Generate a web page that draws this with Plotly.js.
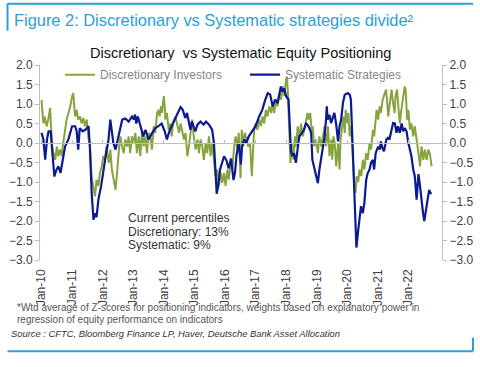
<!DOCTYPE html>
<html>
<head>
<meta charset="utf-8">
<script src="https://cdn.plot.ly/plotly-3.0.1.min.js"></script>
<style>html,body{margin:0;padding:0;background:#fff}#chart{width:480px;height:367px}</style>
</head>
<body>
<div id="chart"></div>
<script>
// Tick labels (decimal-year positions)
const tickYears = [2010,2011,2012,2013,2014,2015,2016,2017,2018,2019,2020,2021,2022];
const tickLabels = ["Jan-10","Jan-11","Jan-12","Jan-13","Jan-14","Jan-15","Jan-16","Jan-17","Jan-18","Jan-19","Jan-20","Jan-21","Jan-22"];

// Discretionary Investors (green), x in decimal years
const discX = [2010.00,2010.03,2010.06,2010.10,2010.17,2010.22,2010.28,2010.31,2010.35,2010.39,2010.45,2010.50,2010.55,2010.61,2010.66,2010.71,2010.77,2010.82,2010.88,2010.94,
2011.00,2011.04,2011.07,2011.10,2011.15,2011.20,2011.26,2011.31,2011.37,2011.42,2011.48,2011.54,2011.58,2011.64,2011.69,2011.75,2011.80,2011.86,2011.91,2011.97,
2012.02,2012.07,2012.12,2012.20,2012.25,2012.30,2012.36,2012.42,2012.47,2012.50,2012.54,2012.58,2012.63,2012.69,2012.74,2012.80,2012.85,2012.90,2012.96,
2013.01,2013.07,2013.12,2013.18,2013.23,2013.29,2013.34,2013.40,2013.45,2013.50,2013.56,2013.61,2013.67,2013.72,2013.78,2013.83,2013.86,2013.91,2013.94,
2014.00,2014.03,2014.05,2014.10,2014.16,2014.21,2014.26,2014.30,2014.38,2014.43,2014.50,2014.55,2014.60,2014.66,2014.71,2014.77,2014.82,2014.87,2014.93,2014.98,
2015.04,2015.10,2015.15,2015.20,2015.26,2015.31,2015.37,2015.42,2015.48,2015.53,2015.58,2015.64,2015.69,2015.75,2015.80,2015.86,2015.91,2015.97,
2016.02,2016.08,2016.13,2016.19,2016.24,2016.30,2016.35,2016.40,2016.45,2016.48,2016.51,2016.55,2016.60,2016.65,2016.70,2016.76,2016.82,2016.88,2016.93,2016.96,
2017.00,2017.06,2017.12,2017.17,2017.23,2017.28,2017.34,2017.39,2017.45,2017.51,2017.56,2017.61,2017.67,2017.72,2017.78,2017.83,2017.89,2017.94,
2018.00,2018.03,2018.06,2018.09,2018.14,2018.19,2018.24,2018.29,2018.33,2018.38,2018.43,2018.49,2018.54,2018.60,2018.65,2018.70,2018.74,2018.79,2018.84,2018.87,2018.92,2018.98,
2019.04,2019.09,2019.15,2019.20,2019.26,2019.31,2019.37,2019.42,2019.48,2019.51,2019.55,2019.59,2019.64,2019.70,2019.75,2019.78,2019.84,2019.88,2019.92,2019.95,2019.99,
2020.04,2020.08,2020.12,2020.16,2020.20,2020.24,2020.27,2020.31,2020.36,2020.40,2020.46,2020.51,2020.56,2020.62,2020.67,2020.73,2020.78,2020.84,2020.88,2020.93,2020.96,
2021.01,2021.06,2021.10,2021.16,2021.23,2021.27,2021.31,2021.34,2021.38,2021.45,2021.50,2021.55,2021.58,2021.63,2021.68,2021.72,2021.77,2021.83,2021.88,2021.91,2021.96,
2022.00,2022.05,2022.10,2022.16,2022.21,2022.27,2022.33,2022.38,2022.43,2022.49,2022.54,2022.60,2022.65,2022.70,2022.76];
const discY = [1.10,0.85,0.50,0.68,0.43,0.60,0.90,0.43,-0.09,-0.26,-0.43,-0.09,-0.34,-0.17,-0.34,0.00,0.30,0.60,0.77,0.94,
1.20,1.28,0.94,0.68,0.85,0.60,0.68,0.50,0.64,0.43,0.60,0.09,0.00,-0.85,-1.10,-1.37,-0.94,-1.10,-0.77,-0.60,
-0.34,-0.43,-0.09,-0.51,-0.17,-0.68,-0.94,-1.20,-0.77,-0.43,-0.09,0.17,-0.09,-0.26,0.09,-0.09,0.17,-0.26,0.17,
0.00,0.26,-0.26,0.17,-0.34,0.34,-0.09,0.17,-0.26,0.26,0.17,-0.17,0.43,0.26,0.77,0.85,0.68,0.94,0.77,
1.20,0.94,0.60,0.77,0.34,0.50,0.17,0.50,0.68,0.50,0.26,0.50,0.34,0.09,0.26,-0.34,-0.09,0.26,0.60,0.17,
-0.17,0.09,-0.26,0.09,-0.09,-0.43,0.00,-0.26,0.17,-0.34,0.00,-0.43,-0.85,-0.68,-1.10,-0.77,-1.02,-0.77,
-1.10,-0.68,-0.94,-0.43,-0.68,-0.09,0.17,-0.17,0.26,-0.20,-0.90,0.34,-0.09,0.26,0.09,-0.09,0.00,-0.85,0.00,0.34,
0.50,0.34,0.60,0.43,0.68,0.50,0.85,0.68,0.94,0.77,1.02,0.77,1.11,0.94,1.28,1.11,1.45,1.20,
1.62,1.70,1.28,0.43,-0.51,0.00,-0.43,0.17,-0.09,0.43,0.09,0.50,0.17,0.34,0.60,0.77,0.60,0.77,0.26,0.43,-0.09,0.09,
-0.26,0.17,-0.09,0.17,0.43,-0.09,0.43,-0.34,0.09,-0.43,0.17,0.00,-0.60,0.00,-0.68,0.09,0.43,0.68,0.26,0.85,0.51,
0.77,0.17,0.43,0.00,-0.68,-1.20,-1.28,-0.85,-1.00,-0.68,-0.85,-0.43,-0.68,-0.26,-0.43,0.00,-0.17,0.34,0.17,0.77,0.85,
0.60,0.94,0.77,1.11,1.28,1.37,1.02,0.68,0.94,1.37,1.02,0.77,1.20,1.37,0.85,0.50,0.85,1.20,1.45,1.37,0.60,
0.85,0.34,0.50,0.17,0.43,0.00,-0.26,-0.60,-0.09,-0.43,-0.17,-0.43,-0.17,-0.26,-0.60];

// Systematic Strategies (blue)
const systX = [2010.00,2010.06,2010.12,2010.18,2010.23,2010.30,2010.36,2010.42,2010.48,2010.55,2010.62,2010.70,2010.77,2010.88,
2011.00,2011.10,2011.15,2011.20,2011.25,2011.35,2011.45,2011.54,2011.58,2011.64,2011.70,2011.75,2011.80,2011.86,2011.95,
2012.08,2012.19,2012.25,2012.35,2012.42,2012.52,2012.64,2012.74,2012.85,2012.96,
2013.02,2013.06,2013.10,2013.15,2013.25,2013.33,2013.40,2013.50,2013.62,2013.72,2013.82,2013.93,
2014.03,2014.10,2014.20,2014.30,2014.42,2014.55,2014.62,2014.70,2014.76,2014.87,2014.92,
2015.03,2015.10,2015.20,2015.30,2015.38,2015.48,2015.58,2015.64,2015.69,2015.73,2015.78,2015.84,2015.97,
2016.05,2016.12,2016.20,2016.28,2016.33,2016.38,2016.45,2016.52,2016.56,2016.63,2016.70,2016.78,2016.90,
2017.00,2017.12,2017.22,2017.32,2017.40,2017.48,2017.56,2017.64,2017.72,2017.83,2017.88,2017.94,
2018.00,2018.08,2018.11,2018.16,2018.21,2018.26,2018.32,2018.37,2018.43,2018.52,2018.58,2018.65,2018.70,2018.76,2018.82,2018.86,2018.93,2018.98,
2019.04,2019.09,2019.15,2019.20,2019.26,2019.31,2019.33,2019.36,2019.42,2019.47,2019.53,2019.58,2019.64,2019.70,2019.75,2019.80,2019.86,2019.92,
2020.02,2020.08,2020.12,2020.15,2020.20,2020.23,2020.27,2020.30,2020.35,2020.40,2020.45,2020.51,2020.56,2020.62,2020.67,2020.73,2020.78,2020.84,2020.88,2020.93,
2021.01,2021.06,2021.10,2021.15,2021.20,2021.28,2021.33,2021.38,2021.44,2021.50,2021.56,2021.61,2021.66,2021.72,2021.78,2021.83,2021.88,2021.94,
2022.00,2022.05,2022.10,2022.16,2022.21,2022.27,2022.33,2022.38,2022.43,2022.48,2022.52,2022.57,2022.62,2022.68,2022.72,2022.76];
const systY = [0.26,0.10,-0.43,0.10,0.30,0.30,-0.30,-0.86,-0.70,-0.60,-0.77,-0.40,-0.09,0.10,
0.43,0.43,0.30,-0.17,0.38,0.30,0.35,0.43,-0.10,-1.28,-1.97,-1.80,-1.90,-1.45,-1.10,
-0.43,0.08,0.60,0.00,-0.17,0.17,0.60,0.63,0.55,0.68,
0.60,0.73,0.50,0.68,0.43,0.17,0.34,0.09,0.26,0.38,0.43,0.50,
0.30,0.09,0.34,0.50,0.70,0.92,0.85,0.64,0.77,0.34,0.55,
0.30,0.47,0.55,0.47,0.55,0.47,0.34,0.00,-0.77,-1.30,-1.10,-0.68,-0.34,
-0.45,-0.65,-0.40,-0.95,-0.75,-0.30,0.00,-0.55,-0.09,0.09,0.00,0.17,0.30,
0.43,0.68,0.85,1.11,1.28,1.24,0.94,1.11,1.02,1.45,1.32,1.40,
1.20,1.11,0.60,-0.21,-0.34,-0.26,-0.51,-0.17,0.17,0.26,0.34,0.50,0.47,0.38,0.26,-0.43,-0.68,-0.77,
-1.03,-0.68,-0.34,-0.09,0.17,0.64,0.94,0.60,0.72,0.51,0.68,0.77,0.47,0.04,0.43,0.60,1.03,1.24,
1.28,1.24,1.11,0.43,-0.34,-1.28,-2.30,-2.68,-2.30,-1.97,-1.62,-1.80,-1.54,-0.94,-0.77,-0.68,-0.50,-0.43,-0.68,-0.26,
-0.09,-0.17,0.04,-0.13,-0.21,0.09,0.13,0.09,0.30,0.51,0.50,0.26,0.43,0.26,0.50,0.30,0.38,0.30,
0.00,-0.17,-0.34,-0.68,-0.85,-1.45,-0.80,-1.10,-1.54,-1.80,-2.00,-1.70,-1.50,-1.20,-1.28,-1.30];

const yTicks = [2,1.5,1,0.5,0,-0.5,-1,-1.5,-2,-2.5,-3];

const FONT = "Liberation Sans, Arial, sans-serif";
const frameColor = "#2A9FD8";
// paper-coordinate helpers for decorations (plot area: x 40..442, y 65.3..260.3 px)
const px = v => (v - 40) / 402;
const py = v => (260.3 - v) / 195;

const traces = [
  {x: discX, y: discY, type: "scatter", mode: "lines", name: "Discretionary Investors",
   line: {color: "#86A43E", width: 2}, xaxis: "x", yaxis: "y"},
  {x: systX, y: systY, type: "scatter", mode: "lines", name: "Systematic Strategies",
   line: {color: "#0B1A8E", width: 2.2}, xaxis: "x2", yaxis: "y2"}
];

const axisY = {
  range: [-3, 2], tickvals: yTicks, tickformat: ".1f", showgrid: false, zeroline: false,
  showline: true, linecolor: "#BDBDBD", linewidth: 1, ticks: "outside", ticklen: 4, tickcolor: "#BDBDBD",
  tickfont: {family: FONT, size: 12, color: "#404040"}, fixedrange: true
};

const layout = {
  width: 480, height: 367,
  margin: {l: 40, r: 38, t: 65, b: 107, pad: 0},
  paper_bgcolor: "#fff", plot_bgcolor: "rgba(0,0,0,0)",
  showlegend: true,
  title: {text: "Figure 2: Discretionary vs Systematic strategies divide²", xref: "container", yref: "container",
          x: 14/480, y: 1 - 20/367, xanchor: "left", yanchor: "middle",
          font: {family: FONT, size: 16.4, color: "#2A9FD8"}},
  xaxis: {range: [2009.95, 2023.1], tickvals: tickYears, ticktext: tickLabels, tickangle: -90,
          showline: false, ticks: "", showgrid: false, zeroline: false,
          tickfont: {family: FONT, size: 12, color: "#404040"}, ticklabelstandoff: 6, fixedrange: true},
  xaxis2: {range: [2009.95, 2023.1], overlaying: "x", anchor: "free", position: 0.6, side: "bottom",
           tickvals: tickYears, showticklabels: false, showline: true, linecolor: "#BDBDBD", linewidth: 1,
           ticks: "inside", ticklen: 3, tickcolor: "#BDBDBD", showgrid: false, zeroline: false, fixedrange: true},
  yaxis: Object.assign({}, axisY, {side: "left"}),
  yaxis2: Object.assign({}, axisY, {side: "right", overlaying: "y", anchor: "x"}),
  legend: {orientation: "h", x: px(60), y: py(75), xanchor: "left", yanchor: "middle",
           bgcolor: "rgba(0,0,0,0)", entrywidth: 140, entrywidthmode: "pixels", tracegroupgap: 0,
           font: {family: FONT, size: 12, color: "#858585"}},
  annotations: [
    {text: "Discretionary  vs Systematic Equity Positioning", xref: "paper", yref: "paper", x: px(240), y: py(53),
     xanchor: "center", yanchor: "middle", showarrow: false, font: {family: FONT, size: 14.5, color: "#111"}},
    {text: "Current percentiles", xref: "paper", yref: "paper", x: px(126), y: py(218.3), xanchor: "left", yanchor: "middle",
     showarrow: false, font: {family: FONT, size: 12, color: "#333"}},
    {text: "Discretionary: 13%", xref: "paper", yref: "paper", x: px(126), y: py(232.5), xanchor: "left", yanchor: "middle",
     showarrow: false, font: {family: FONT, size: 12, color: "#333"}},
    {text: "Systematic: 9%", xref: "paper", yref: "paper", x: px(126), y: py(245.7), xanchor: "left", yanchor: "middle",
     showarrow: false, font: {family: FONT, size: 12, color: "#333"}},
    {text: "*Wtd average of Z-scores for positioning indicators, weights based on explanatory power in", xref: "paper", yref: "paper",
     x: px(15), y: py(307.5), xanchor: "left", yanchor: "middle", showarrow: false, font: {family: FONT, size: 10, color: "#555"}},
    {text: "regression of equity performance on indicators", xref: "paper", yref: "paper",
     x: px(15), y: py(320), xanchor: "left", yanchor: "middle", showarrow: false, font: {family: FONT, size: 10, color: "#555"}},
    {text: "<i>Source : CFTC, Bloomberg Finance LP, Haver, Deutsche Bank Asset Allocation</i>", xref: "paper", yref: "paper",
     x: px(9), y: py(334), xanchor: "left", yanchor: "middle", showarrow: false, font: {family: FONT, size: 9.4, color: "#333"}}
  ],
  shapes: [
    {type: "line", xref: "paper", yref: "paper", x0: px(7.5), x1: px(473), y0: py(4), y1: py(4), line: {color: frameColor, width: 2}},
    {type: "line", xref: "paper", yref: "paper", x0: px(7.5), x1: px(7.5), y0: py(4), y1: py(31), line: {color: frameColor, width: 2}},
    {type: "line", xref: "paper", yref: "paper", x0: px(7.5), x1: px(473), y0: py(351.5), y1: py(351.5), line: {color: frameColor, width: 2}},
    {type: "line", xref: "paper", yref: "paper", x0: px(473), x1: px(473), y0: py(338), y1: py(351.5), line: {color: frameColor, width: 2}}
  ]
};

Plotly.newPlot("chart", traces, layout, {displayModeBar: false, staticPlot: true});
</script>
</body>
</html>
